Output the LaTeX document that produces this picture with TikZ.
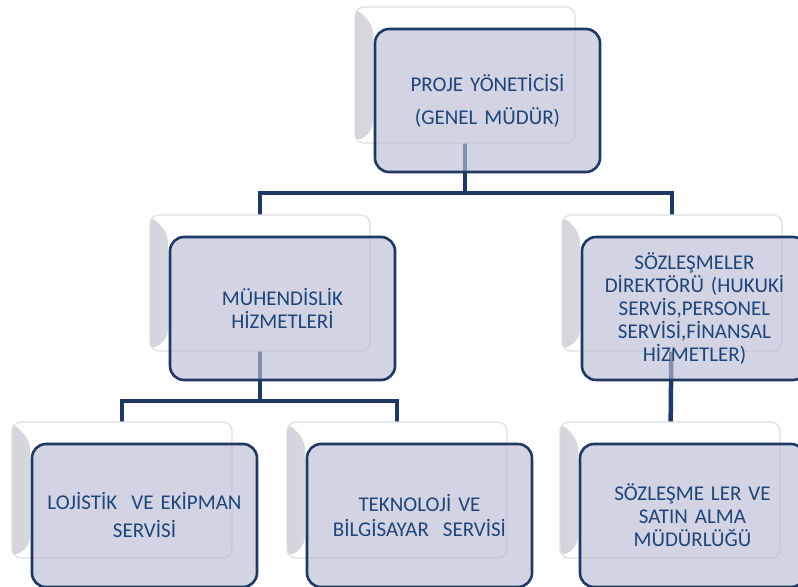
\documentclass[tikz,border=0pt]{standalone}
\usepackage{fontspec}
\setmainfont{Carlito}
\usetikzlibrary{backgrounds}

\definecolor{navy}{HTML}{1F3864}
\definecolor{txtblue}{HTML}{1F4479}
\definecolor{boxfill}{RGB}{186,190,213}
\definecolor{bevel}{RGB}{212,212,220}
\definecolor{rimgray}{RGB}{222,222,228}

\tikzset{
  conn/.style={draw=navy, line width=4.5bp},
  backcard/.style={rectangle, rounded corners=9bp, minimum width=220bp,
    minimum height=136bp, inner sep=0pt, fill=white, draw=rimgray, line width=1.2bp,
    path picture={\shade[left color=bevel, right color=white]
      (path picture bounding box.north west) -- ++(18,18)
      -- ([shift={(18,-12)}]path picture bounding box.south west)
      -- (path picture bounding box.south west) -- cycle;}},
  card/.style={rectangle, rounded corners=14bp, minimum width=225bp,
    minimum height=143bp, inner sep=0pt, text width=212bp, align=center,
    fill=boxfill, fill opacity=0.65, text opacity=1, draw=navy, line width=2.6bp,
    text=txtblue, font=\fontsize{21bp}{23bp}\selectfont}
}

\begin{document}
\begin{tikzpicture}[x=1bp, y=-1bp]
  \useasboundingbox (0,0) rectangle (798,587);
  \clip (0,0) rectangle (798,587);

  % top level
  \node[backcard] (topS) at (465,75) {};
  \node[card] (top) at (487.5,100.5) {PROJE YÖNETİCİSİ\\[10bp](GENEL MÜDÜR)};

  % second level
  \node[backcard] (mhS) at (260,283) {};
  \node[card] (mh) at (282.5,308.5) {MÜHENDİSLİK\\HİZMETLERİ};

  \node[backcard] (szS) at (672,283) {};
  \node[card] (sz) at (694.5,308.5) {SÖZLEŞMELER\\DİREKTÖRÜ (HUKUKİ\\SERVİS,PERSONEL\\SERVİSİ,FİNANSAL\\HİZMETLER)};

  % third level
  \node[backcard] (loS) at (122,490) {};
  \node[card] (lo) at (144.5,515.5) {LOJİSTİK~ VE EKİPMAN\\[5bp]SERVİSİ};

  \node[backcard] (teS) at (397,490) {};
  \node[card] (te) at (419.5,515.5) {TEKNOLOJİ VE\\[2bp]BİLGİSAYAR~ SERVİSİ};

  \node[backcard] (saS) at (670,490) {};
  \node[card] (sa) at (692.5,515.5) {SÖZLEŞME LER VE\\SATIN ALMA\\MÜDÜRLÜĞÜ};

  % connectors, behind the cards
  \begin{scope}[on background layer]
    \coordinate (bus1) at (0,193);
    \coordinate (bus2) at (0,401);
    \draw[conn] (topS.center) -- (topS.center |- bus1);
    \draw[conn] (mhS.center) -- (mhS.center |- bus1) -- (szS.center |- bus1) -- (szS.center);
    \draw[conn] (mhS.center) -- (mhS.center |- bus2);
    \draw[conn] (loS.center) -- (loS.center |- bus2) -- (teS.center |- bus2) -- (teS.center);
    \draw[conn] (szS.center) -- (saS.center);
  \end{scope}
\end{tikzpicture}
\end{document}
